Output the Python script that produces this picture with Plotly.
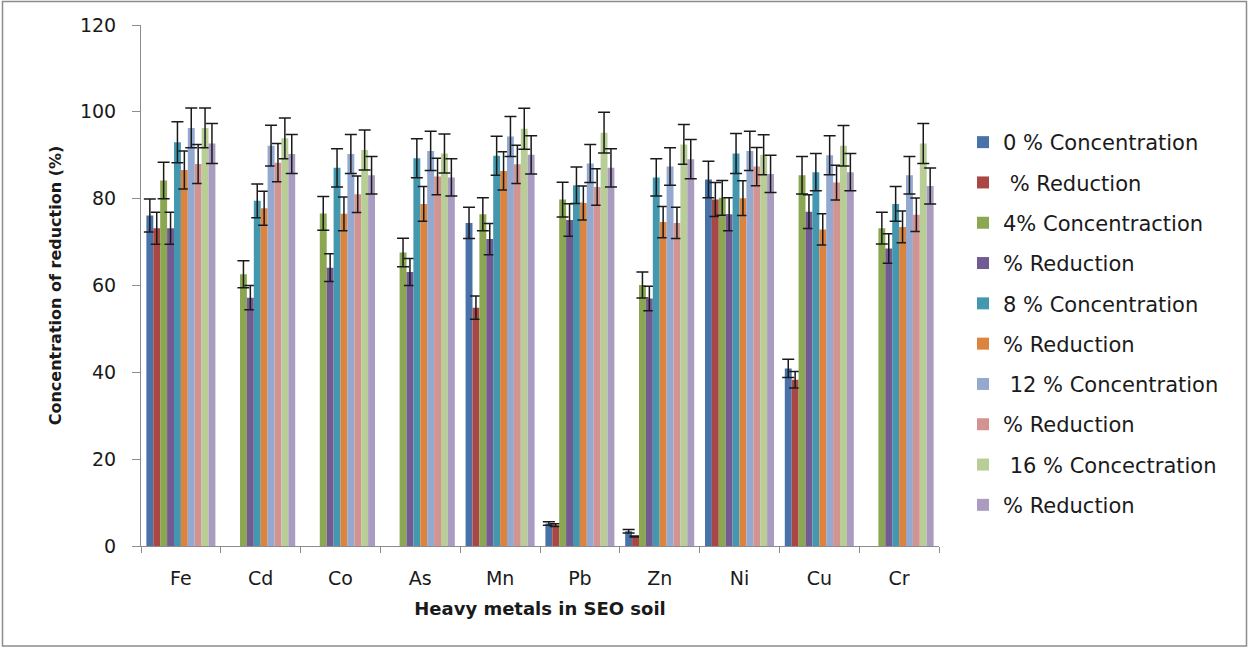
import plotly.graph_objects as go

categories = ["Fe", "Cd", "Co", "As", "Mn", "Pb", "Zn", "Ni", "Cu", "Cr"]

series_names = [
    "0 % Concentration", "\u00a0% Reduction", "4% Concentraction", "% Reduction",
    "8 % Concentration", "% Reduction", "\u00a012 % Concentration", "% Reduction",
    "\u00a016 % Concectration", "% Reduction",
]

conc0 = [76.1, None, None, None, 74.4, 5.2, 3.4, 84.4, 40.9, None]
err_conc0 = [3.8, None, None, None, 3.6, 0.4, 0.4, 4.2, 2.1, None]
red0 = [73.2, None, None, None, 54.9, 4.8, 2.2, 79.8, 38.3, None]
err_red0 = [3.7, None, None, None, 2.7, 0.3, 0.1, 3.9, 1.9, None]
conc4 = [84.2, 62.6, 76.6, 67.6, 76.4, 79.8, 60.1, 80.2, 85.4, 73.2]
err_conc4 = [4.2, 3.1, 3.9, 3.3, 3.8, 4.0, 3.0, 4.0, 4.3, 3.65]
red4 = [73.2, 57.2, 64.1, 63.1, 70.7, 75.1, 57.0, 76.4, 77.0, 68.5]
err_red4 = [3.7, 2.8, 3.2, 3.1, 3.6, 3.75, 2.8, 3.8, 3.9, 3.4]
conc8 = [93.0, 79.5, 87.1, 89.3, 89.9, 83.1, 84.9, 90.4, 86.1, 78.8]
err_conc8 = [4.7, 3.9, 4.4, 4.5, 4.5, 4.2, 4.3, 4.6, 4.3, 4.0]
red8 = [86.6, 77.8, 76.5, 78.8, 86.4, 79.0, 74.6, 80.1, 72.9, 73.5]
err_red8 = [4.4, 3.9, 3.9, 4.0, 4.4, 3.9, 3.6, 4.0, 3.6, 3.65]
conc12 = [96.3, 92.2, 90.3, 91.0, 94.3, 88.1, 87.4, 91.0, 90.0, 85.4]
err_conc12 = [4.6, 4.7, 4.5, 4.5, 4.6, 4.4, 4.3, 4.5, 4.5, 4.3]
red12 = [88.0, 88.3, 81.0, 85.1, 87.9, 82.7, 74.4, 87.4, 83.7, 76.3]
err_red12 = [4.5, 4.4, 4.2, 4.2, 4.4, 4.2, 3.6, 4.4, 4.0, 3.85]
conc16 = [96.3, 93.9, 91.2, 90.4, 96.1, 95.2, 92.5, 90.1, 92.2, 92.7]
err_conc16 = [4.6, 4.7, 4.6, 4.5, 4.7, 4.7, 4.6, 4.6, 4.65, 4.6]
red16 = [92.7, 90.3, 85.4, 84.9, 90.1, 87.1, 89.1, 85.7, 86.1, 82.9]
err_red16 = [4.6, 4.5, 4.3, 4.3, 4.4, 4.4, 4.5, 4.3, 4.3, 4.15]

y_ticks = [0, 20, 40, 60, 80, 100, 120]

colors = ["#4872A8", "#AA4744", "#8BA752", "#725A92", "#4398AF",
          "#DC843E", "#94A9D0", "#D39391", "#B9CE97", "#A99CC0"]

values = [conc0, red0, conc4, red4, conc8, red8, conc12, red12, conc16, red16]
errors = [err_conc0, err_red0, err_conc4, err_red4, err_conc8, err_red8,
          err_conc12, err_red12, err_conc16, err_red16]

fig = go.Figure()
for i, (name, vals, errs, col) in enumerate(zip(series_names, values, errors, colors)):
    fig.add_trace(go.Bar(
        x=categories, y=vals, name=name, legendgroup=f"g{i}",
        marker=dict(color=col, line=dict(width=0)),
        error_y=dict(type="data", array=errs, visible=True,
                     color="#1a1a1a", thickness=1.5, width=6),
    ))

W, H = 1249, 648
ml, mr, mt, mb = 141, 310, 25, 102
pw, ph = W - ml - mr, H - mt - mb

def px_x(p):
    return (p - ml) / pw

def px_y(p):
    return (H - mb - p) / ph

fig.update_layout(
    width=W, height=H,
    margin=dict(l=ml, r=mr, t=mt, b=mb, pad=0),
    paper_bgcolor="white", plot_bgcolor="white",
    barmode="group", bargap=0.135, bargroupgap=0,
    font=dict(family="DejaVu Sans", size=19, color="#1a1a1a"),
    legend=dict(
        x=px_x(963), y=px_y(122), xanchor="left", yanchor="top",
        font=dict(family="DejaVu Sans", size=21, color="#1a1a1a"),
        tracegroupgap=10, bgcolor="rgba(0,0,0,0)",
    ),
    xaxis=dict(
        type="category", tickson="boundaries", ticks="outside", ticklen=6,
        tickcolor="#8c8c8c", showline=True, linecolor="#8c8c8c", linewidth=1,
        showgrid=False, ticklabelstandoff=15,
        tickfont=dict(size=19),
        title=dict(text="<b>Heavy metals in SEO soil</b>",
                   font=dict(family="DejaVu Sans", size=18), standoff=14),
    ),
    yaxis=dict(
        range=[0, 120], tickvals=y_ticks, ticks="outside", ticklen=8,
        tickcolor="#8c8c8c", showline=True, linecolor="#8c8c8c", linewidth=1,
        showgrid=False, zeroline=False, ticklabelstandoff=12,
        tickfont=dict(size=19),
        title=dict(text="<b>Concentration of reduction (%)</b>",
                   font=dict(family="DejaVu Sans", size=16), standoff=14),
    ),
    shapes=[dict(
        type="rect", xref="paper", yref="paper",
        x0=px_x(2.5), x1=px_x(1246.5), y0=px_y(646), y1=px_y(1.5),
        line=dict(color="#8c8c8c", width=1.5), fillcolor="rgba(0,0,0,0)",
    )],
)

fig.write_html("out.html", config={"displayModeBar": False},
               post_script="document.body.style.margin='0';")
